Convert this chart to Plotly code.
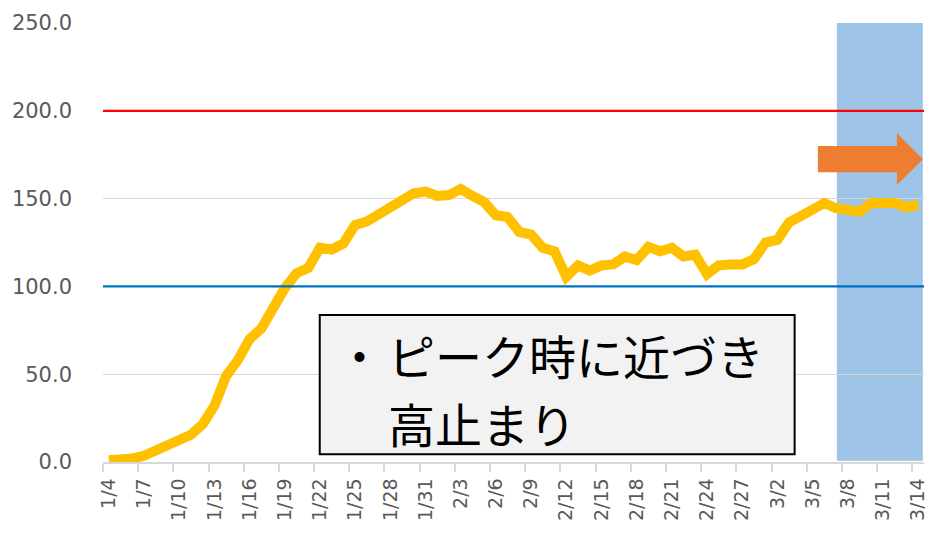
import plotly.graph_objects as go
import pandas as pd

# ---- data ----
START_DATE = "2021-01-04"
N_DAYS = 70
VALUES = [1.0, 1.3, 2.0, 3.5, 6.0, 9.0, 12.5, 15.5, 21.5, 32.0,
          49.0, 58.0, 70.0, 76.0, 89.0, 99.0, 107.5, 110.5, 122.0, 121.0,
          124.5, 135.0, 137.0, 141.0, 145.5, 149.5, 153.0, 154.0, 151.5, 152.0,
          155.5, 151.5, 148.0, 140.5, 139.5, 131.0, 129.5, 122.0, 120.0, 105.5,
          112.0, 109.0, 112.0, 112.5, 117.0, 115.0, 122.5, 120.0, 122.0, 117.0,
          118.0, 107.0, 112.0, 112.5, 112.5, 115.5, 125.0, 126.5, 136.5, 140.0,
          144.5, 147.5, 144.5, 143.5, 142.5, 147.5, 147.0, 147.5, 145.0, 146.5]
UPPER_LINE = 200
LOWER_LINE = 100
TICK_LABELS = ["1/4", "1/7", "1/10", "1/13", "1/16", "1/19", "1/22", "1/25",
               "1/28", "1/31", "2/3", "2/6", "2/9", "2/12", "2/15", "2/18",
               "2/21", "2/24", "2/27", "3/2", "3/5", "3/8", "3/11", "3/14"]
Y_TICKS = [0, 50, 100, 150, 200, 250]
NOTE_BULLET = "・"
NOTE_LINE1 = "ピーク時に近づき"
NOTE_LINE2 = "高止まり"

dates = pd.date_range(START_DATE, periods=N_DAYS)
x = list(range(len(dates)))
tickvals = [i for i in x if i % 3 == 0]

fig = go.Figure()
fig.add_trace(go.Scatter(x=x, y=VALUES, mode="lines",
                         line=dict(color="#FFC000", width=10),
                         hoverinfo="skip", showlegend=False))

shapes = [
    # highlighted period
    dict(type="rect", xref="x", yref="y", x0=62.07, x1=69.4, y0=0.7, y1=250,
         fillcolor="#9DC3E6", line=dict(width=0), layer="below"),
    # reference lines
    dict(type="line", xref="paper", yref="y", x0=0, x1=1, y0=UPPER_LINE, y1=UPPER_LINE,
         line=dict(color="#FF0000", width=2.2), layer="above"),
    dict(type="line", xref="paper", yref="y", x0=0, x1=1, y0=LOWER_LINE, y1=LOWER_LINE,
         line=dict(color="#0070C0", width=2.4), layer="above"),
    # arrow
    dict(type="path", xref="x", yref="y",
         path="M 60.45 179.95 L 67.19 179.95 L 67.19 187.2 L 69.4 172.4 "
              "L 67.19 157.7 L 67.19 164.97 L 60.45 164.97 Z",
         fillcolor="#ED7D31", line=dict(width=0), layer="above"),
    # note box
    dict(type="rect", xref="x", yref="y", x0=17.98, x1=58.47, y0=4.4, y1=83.7,
         fillcolor="#F2F2F2", line=dict(color="#000000", width=2), layer="above"),
]

note_font = dict(family="Noto Sans CJK JP", size=47, color="#000000")
annotations = [
    dict(x=21.4, y=61.5, xref="x", yref="y", text=NOTE_BULLET, showarrow=False,
         xanchor="center", yanchor="middle", font=note_font),
    dict(x=23.6, y=61.5, xref="x", yref="y", text=NOTE_LINE1, showarrow=False,
         xanchor="left", yanchor="middle", font=note_font),
    dict(x=23.6, y=22.5, xref="x", yref="y", text=NOTE_LINE2, showarrow=False,
         xanchor="left", yanchor="middle", font=note_font),
]

# The page body keeps its default 8px margin; the figure is sized so that it
# ends at the window's right and bottom edges. Automargin is off so the plot
# area stays exactly where the margins put it.
fig.update_layout(
    width=925, height=520,
    margin=dict(l=95, r=9, t=15, b=66, pad=0, autoexpand=False),
    plot_bgcolor="white", paper_bgcolor="white",
    shapes=shapes, annotations=annotations,
    showlegend=False,
    xaxis=dict(range=[-0.5, 69.5], tickmode="array", tickvals=tickvals,
               ticktext=TICK_LABELS, tickangle=-90, ticks="",
               showgrid=False, zeroline=False, automargin=False,
               showline=True, linecolor="#D9D9D9", linewidth=1.5,
               ticklabelstandoff=7, ticklabeloverflow="allow",
               tickfont=dict(family="DejaVu Sans", size=19, color="#595959"),
               minor=dict(tickmode="array",
                          tickvals=[v - 0.5 for v in tickvals],
                          ticks="outside", ticklen=8, tickwidth=1.5,
                          tickcolor="#D9D9D9", showgrid=False)),
    yaxis=dict(range=[0, 250], tickmode="array", tickvals=Y_TICKS,
               tickformat=".1f", ticks="", showgrid=True, automargin=False,
               gridcolor="#D9D9D9", gridwidth=1.2, zeroline=False,
               showline=False, ticklabelstandoff=30,
               tickfont=dict(family="DejaVu Sans", size=21, color="#595959")),
)

fig.write_html("out.html", config={"displayModeBar": False})
